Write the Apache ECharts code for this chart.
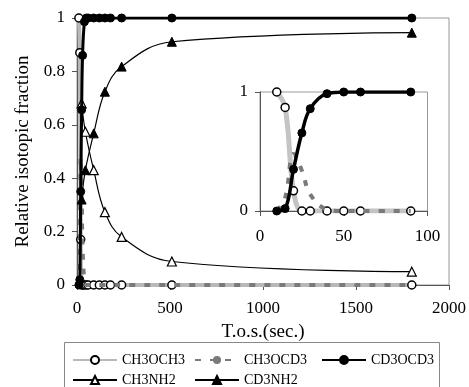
<!DOCTYPE html>
<html>
<head>
<meta charset="utf-8">
<script src="https://cdn.jsdelivr.net/npm/echarts@6/dist/echarts.min.js"></script>
<style>
html, body { margin: 0; padding: 0; background: #fff; }
#main { width: 469px; height: 387px; }
</style>
</head>
<body>
<div id="main"></div>
<script>
// time on stream (s) and isotopic fractions
var times = [10, 15, 20, 25, 30, 40, 50, 60, 90, 120, 150, 180, 240, 510, 1800];
var ch3och3 = [1, 0.87, 0.17, 0, 0, 0, 0, 0, 0, 0, 0, 0, 0, 0, 0];
var ch3ocd3 = [0, 0.11, 0.48, 0.34, 0.14, 0.014, 0, 0, 0, 0, 0, 0, 0, 0, 0];
var cd3ocd3 = [0, 0.02, 0.35, 0.656, 0.86, 0.986, 1, 1, 1, 1, 1, 1, 1, 1, 1];
var amineTimes = [25, 45, 90, 150, 240, 510, 1800];
var ch3nh2 = [0.68, 0.574, 0.43, 0.273, 0.18, 0.088, 0.05];
var cd3nh2 = [0.32, 0.43, 0.568, 0.724, 0.818, 0.911, 0.945];
var insetMax = 100;

function pairs(xs, ys, limit) {
    var out = [];
    for (var i = 0; i < xs.length; i++) {
        if (limit == null || xs[i] <= limit) out.push([xs[i], ys[i]]);
    }
    return out;
}

var font = '"Liberation Serif", "DejaVu Serif", serif';
var myChart = echarts.init(document.getElementById('main'));

var styles = {
    'CH3OCH3': { line: { color: '#b8b8b8', width: 4 }, symbol: 'circle', size: 8, item: { color: '#fff', borderColor: '#000', borderWidth: 1.5 }, z: 2 },
    'CH3OCD3': { line: { color: '#7a7a7a', width: 4, type: [6, 9] }, symbol: 'none', size: 0, item: { color: '#7a7a7a' }, z: 3 },
    'CD3OCD3': { line: { color: '#000', width: 3 }, symbol: 'circle', size: 8, item: { color: '#000', borderColor: '#000', borderWidth: 1 }, z: 5 },
    'CH3NH2': { line: { color: '#000', width: 1.2 }, symbol: 'triangle', size: 9, item: { color: '#fff', borderColor: '#000', borderWidth: 1.2 }, z: 4 },
    'CD3NH2': { line: { color: '#000', width: 1.2 }, symbol: 'triangle', size: 9, item: { color: '#000', borderColor: '#000', borderWidth: 1 }, z: 4 }
};

function mkSeries(name, xs, ys, idx, limit, inset) {
    var s = styles[name];
    var ls = Object.assign({}, s.line);
    if (inset && name === 'CH3OCH3') { ls.width = 5; ls.color = '#c4c4c4'; }
    if (inset && name === 'CD3OCD3') { ls.width = 3.5; }
    return {
        name: name,
        type: 'line',
        xAxisIndex: idx,
        yAxisIndex: idx,
        smooth: 0.4,
        symbol: s.symbol,
        symbolSize: s.size,
        showAllSymbol: true,
        lineStyle: ls,
        itemStyle: s.item,
        z: s.z,
        animation: false,
        data: pairs(xs, ys, limit)
    };
}

var series = [
    mkSeries('CH3OCH3', times, ch3och3, 0),
    mkSeries('CH3OCD3', times, ch3ocd3, 0),
    mkSeries('CH3NH2', amineTimes, ch3nh2, 0),
    mkSeries('CD3NH2', amineTimes, cd3nh2, 0),
    mkSeries('CD3OCD3', times, cd3ocd3, 0),
    mkSeries('CH3OCH3', times, ch3och3, 1, insetMax, true),
    mkSeries('CH3OCD3', times, ch3ocd3, 1, insetMax, true),
    mkSeries('CD3OCD3', times, cd3ocd3, 1, insetMax, true)
];

function labels(margin) {
    return {
        margin: margin,
        color: '#000',
        fontFamily: font,
        fontSize: 17,
        formatter: function (v) { return String(v); }
    };
}

function legendAt(name, left, top) {
    return {
        data: [name],
        left: left,
        top: top,
        padding: 0,
        itemWidth: 44,
        itemHeight: 10,
        itemGap: 5,
        selectedMode: false,
        textStyle: { color: '#000', fontFamily: font, fontSize: 14 }
    };
}

var option = {
    backgroundColor: '#fff',
    animation: false,
    textStyle: { fontFamily: font },
    grid: [
        { left: 77, right: 19, top: 18, bottom: 102, show: true, borderColor: '#999', borderWidth: 1, backgroundColor: 'transparent' },
        { left: 260, right: 41.5, top: 92, bottom: 176, show: true, borderColor: '#999', borderWidth: 1, backgroundColor: 'transparent' }
    ],
    xAxis: [
        {
            gridIndex: 0, type: 'value', min: 0, max: 2000, interval: 500,
            name: 'T.o.s.(sec.)', nameLocation: 'middle', nameGap: 38,
            nameTextStyle: { color: '#000', fontFamily: font, fontSize: 19 },
            axisLine: { lineStyle: { color: '#555' } },
            axisTick: { show: true, length: 5, lineStyle: { color: '#555' } },
            axisLabel: labels(15),
            splitLine: { show: false }
        },
        {
            gridIndex: 1, type: 'value', min: 0, max: 100, interval: 50,
            axisLine: { lineStyle: { color: '#555' } },
            axisTick: { show: true, length: 5, lineStyle: { color: '#555' } },
            axisLabel: labels(17),
            splitLine: { show: false }
        }
    ],
    yAxis: [
        {
            gridIndex: 0, type: 'value', min: 0, max: 1, interval: 0.2,
            name: 'Relative isotopic fraction', nameLocation: 'middle', nameGap: 44,
            nameTextStyle: { color: '#000', fontFamily: font, fontSize: 19 },
            axisLine: { show: true, lineStyle: { color: '#555' } },
            axisTick: { show: true, length: 5, lineStyle: { color: '#555' } },
            axisLabel: labels(12),
            splitLine: { show: false }
        },
        {
            gridIndex: 1, type: 'value', min: 0, max: 1, interval: 1,
            axisLine: { show: true, lineStyle: { color: '#555' } },
            axisTick: { show: true, length: 5, lineStyle: { color: '#555' } },
            axisLabel: labels(12),
            splitLine: { show: false }
        }
    ],
    legend: [
        legendAt('CH3OCH3', 72, 353),
        legendAt('CH3OCD3', 194, 353),
        legendAt('CD3OCD3', 321, 353),
        legendAt('CH3NH2', 72, 373),
        legendAt('CD3NH2', 194, 373)
    ],
    graphic: [
        {
            type: 'rect',
            shape: { x: 64.5, y: 342.5, width: 375, height: 60 },
            style: { fill: 'none', stroke: '#888', lineWidth: 1 },
            silent: true,
            z: -1
        }
    ],
    series: series
};

myChart.setOption(option);
</script>
</body>
</html>
